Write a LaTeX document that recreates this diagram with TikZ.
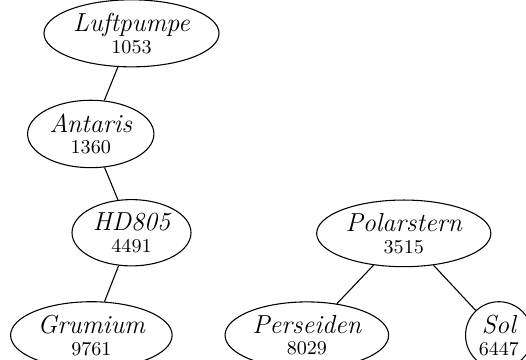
\documentclass[tikz,border=0pt]{standalone}
\usetikzlibrary{shapes.geometric}

\begin{document}
\begin{tikzpicture}[
star/.style={draw,ellipse,align=center,inner sep=1.6pt,line width=.5pt},
link/.style={line width=.5pt}]
\useasboundingbox (0,0) rectangle (8.52,-5.83);
\node[star] (luftpumpe) at (2.13,-0.54) {{\large\itshape Luftpumpe}\\[-2pt]{\small 1053}};
\node[star] (antaris) at (1.47,-2.17) {{\large\itshape Antaris}\\[-2pt]{\small 1360}};
\node[star] (hd) at (2.13,-3.77) {{\large\itshape HD805}\\[-2pt]{\small 4491}};
\node[star] (grumium) at (1.48,-5.43) {{\large\itshape Grumium}\\[-2pt]{\small 9761}};
\draw[link] (luftpumpe)--(antaris);
\draw[link] (antaris)--(hd);
\draw[link] (hd)--(grumium);
\node[star] (polarstern) at (6.54,-3.78) {{\large\itshape Polarstern}\\[-2pt]{\small 3515}};
\node[star] (perseiden) at (4.97,-5.43) {{\large\itshape Perseiden}\\[-2pt]{\small 8029}};
\node[star] (sol) at (8.08,-5.43) {{\large\itshape Sol}\\[-2pt]{\small 6447}};
\draw[link] (polarstern)--(perseiden);
\draw[link] (polarstern)--(sol);
\end{tikzpicture}
\end{document}
